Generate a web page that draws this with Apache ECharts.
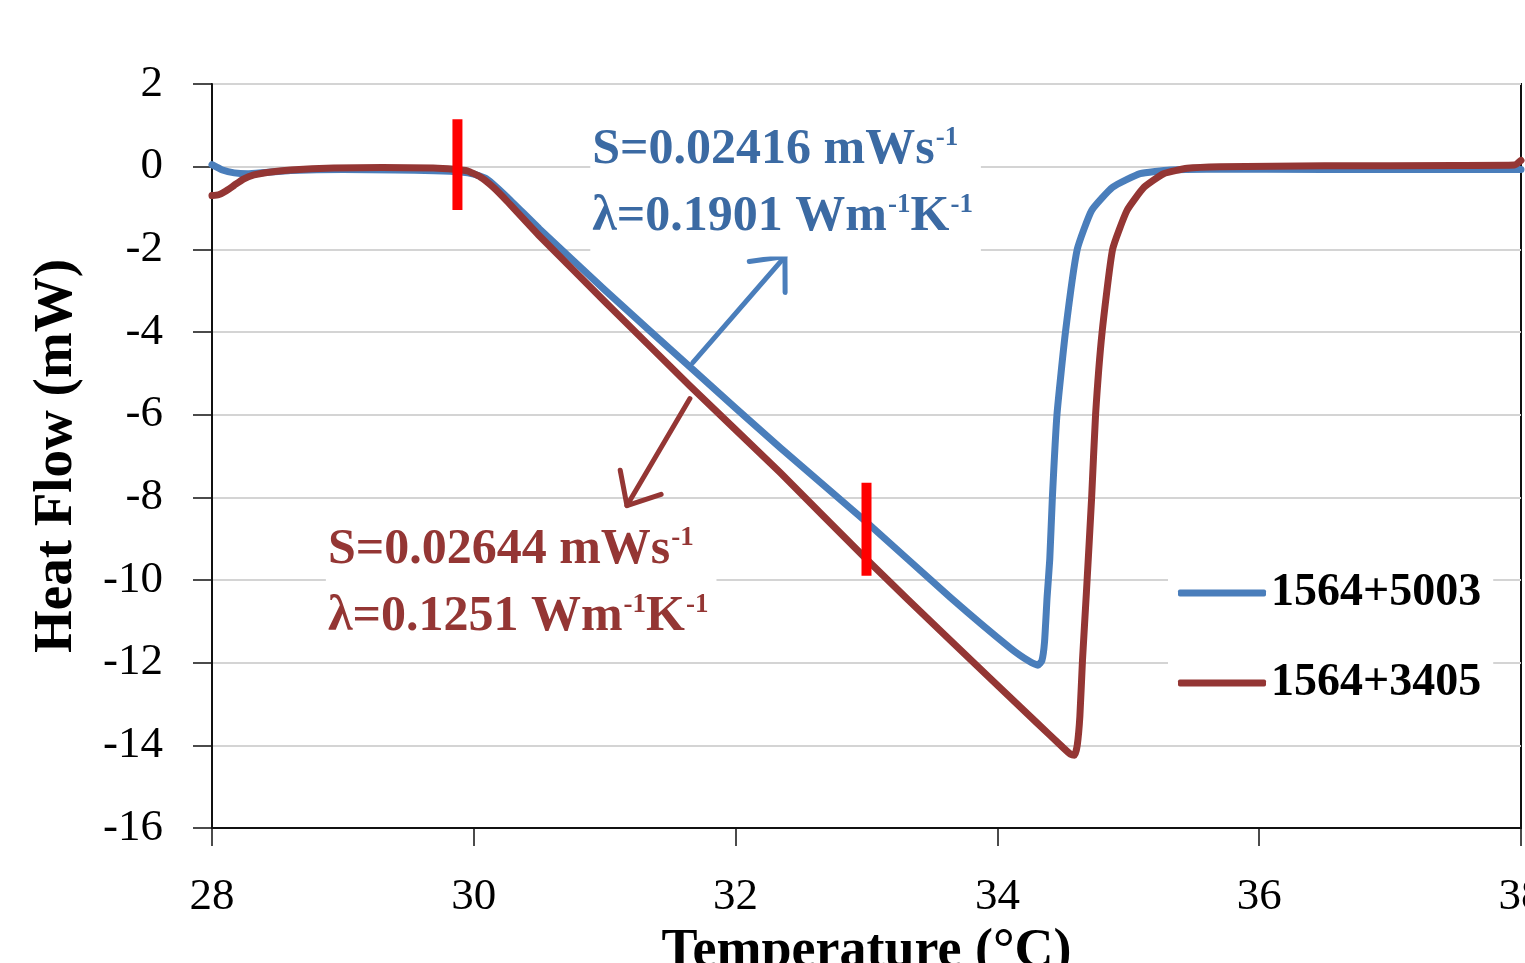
<!DOCTYPE html>
<html>
<head>
<meta charset="utf-8">
<script src="https://cdn.jsdelivr.net/npm/echarts@6/dist/echarts.min.js"></script>
<style>
  html, body { margin: 0; padding: 0; background: #ffffff; }
  #chart { width: 1525px; height: 963px; }
</style>
</head>
<body>
<div id="chart"></div>
<script>
// DSC heat-flow traces for the two blends (temperature in °C, heat flow in mW)
const seriesNames = ['1564+5003', '1564+3405'];

const tempBlue = [28.0, 28.08, 28.17, 28.27, 28.4, 28.6, 29.0, 29.4, 29.7, 29.9, 30.0, 30.1, 30.25, 30.5,
  31.0, 31.67, 32.34, 33.0, 33.64, 34.1, 34.25, 34.31, 34.34,
  34.36, 34.38, 34.40, 34.42, 34.455, 34.52, 34.61, 34.72, 34.88, 35.09, 35.32, 35.6, 36.5, 37.5, 38.0];
const flowBlue = [0.05, -0.08, -0.15, -0.17, -0.14, -0.09, -0.07, -0.08, -0.1, -0.13, -0.18, -0.3, -0.72, -1.5,
  -2.98, -4.9, -6.8, -8.6, -10.42, -11.65, -11.98, -12.06, -11.95,
  -11.5, -10.4, -9.5, -8.0, -6.0, -4.0, -2.0, -1.06, -0.5, -0.17, -0.08, -0.06, -0.07, -0.07, -0.07];

const tempRed = [28.0, 28.05, 28.1, 28.17, 28.24, 28.32, 28.42, 28.6, 28.93, 29.3, 29.69, 29.85, 29.95, 30.05,
  30.15, 30.25, 30.5, 31.0, 31.65, 32.34, 33.0, 33.64, 34.3,
  34.5, 34.56, 34.59, 34.61, 34.63, 34.65, 34.68, 34.72, 34.75, 34.80, 34.88, 34.99, 35.12, 35.27, 35.45,
  35.7, 36.5, 37.5, 37.95, 38.0];
const flowRed = [-0.7, -0.68, -0.6, -0.45, -0.3, -0.2, -0.14, -0.08, -0.03, -0.02, -0.03, -0.06, -0.1, -0.25,
  -0.5, -0.82, -1.67, -3.26, -5.3, -7.4, -9.5, -11.46, -13.45,
  -14.05, -14.22, -14.24, -14.0, -13.3, -11.94, -10.3, -8.0, -6.0, -4.0, -2.0, -1.06, -0.5, -0.17, -0.04,
  0.0, 0.02, 0.03, 0.04, 0.15];

// Red bars marking the fitted interval: temperature, upper and lower heat flow
const markerTemp = [29.875, 33.0];
const markerTop = [1.15, -7.65];
const markerBottom = [-1.05, -9.9];

// Fit results shown next to each trace
const noteS = ['0.02416', '0.02644'];
const noteLambda = ['0.1901', '0.1251'];

// Axis ticks
const xTicks = [28, 30, 32, 34, 36, 38];
const yTicks = [-16, -14, -12, -10, -8, -6, -4, -2, 0, 2];

const FONT = '"Liberation Serif", "DejaVu Serif", serif';
const BLUE = '#4a7ebb';
const RED = '#943634';
const BLUE_TEXT = '#3b6aa3';
const RED_TEXT = '#943634';

const zip = (a, b) => a.map((v, i) => [v, b[i]]);

const chart = echarts.init(document.getElementById('chart'), null, { renderer: 'canvas' });

// Arrow geometry: from a point on the trace to the end pointing at its note
const arrowData = [
  [31.673, -4.74, 32.377, -2.175, 0],
  [31.651, -5.61, 31.17, -8.2, 1]
];
const arrowColors = [BLUE, RED];

// Note placement (top-left corner of each text block, in data units)
const noteData = [
  [30.89, 1.26, 0],
  [28.87, -8.42, 1]
];
const noteColors = [BLUE_TEXT, RED_TEXT];

function noteRich(color) {
  return {
    b: { fontFamily: FONT, fontSize: 50, fontWeight: 'bold', fill: color, lineHeight: 67 },
    s: { fontFamily: FONT, fontSize: 27, fontWeight: 'bold', fill: color, verticalAlign: 'top', padding: [8, 0, 0, 1] }
  };
}

const option = {
  backgroundColor: '#ffffff',
  animation: false,
  grid: {
    left: 212, top: 84, right: 4, bottom: 135,
    outerBoundsMode: 'none',
    containLabel: false,
    show: true, borderColor: '#111', borderWidth: 2, backgroundColor: 'transparent'
  },
  legend: {
    orient: 'vertical',
    left: 1168, top: 560,
    padding: [8, 12, 8, 10],
    backgroundColor: '#ffffff',
    itemWidth: 88, itemHeight: 7, itemGap: 40,
    icon: 'roundRect',
    textStyle: { fontFamily: FONT, fontSize: 46, fontWeight: 'bold', color: '#000', lineHeight: 50 },
    data: seriesNames
  },
  xAxis: {
    type: 'value', min: xTicks[0], max: xTicks[xTicks.length - 1], interval: 2,
    name: 'Temperature (°C)', nameLocation: 'middle', nameGap: 97,
    nameTextStyle: { fontFamily: FONT, fontSize: 54, fontWeight: 'bold', color: '#000' },
    axisLine: { onZero: false, lineStyle: { color: '#111', width: 2 } },
    axisTick: { show: true, length: 18, lineStyle: { color: '#111', width: 1.5 } },
    axisLabel: { fontFamily: FONT, fontSize: 45, color: '#000', margin: 47 },
    splitLine: { show: false }
  },
  yAxis: {
    type: 'value', min: yTicks[0], max: yTicks[yTicks.length - 1], interval: 2,
    name: 'Heat Flow (mW)', nameLocation: 'middle', nameGap: 128,
    nameTextStyle: { fontFamily: FONT, fontSize: 55, fontWeight: 'bold', color: '#000' },
    axisLine: { show: true, onZero: false, lineStyle: { color: '#111', width: 2 } },
    axisTick: { show: true, length: 19, lineStyle: { color: '#111', width: 1.5 } },
    axisLabel: { fontFamily: FONT, fontSize: 45, color: '#000', margin: 49 },
    splitLine: { show: true, lineStyle: { color: '#d4d4d4', width: 2 } }
  },
  series: [
    {
      name: seriesNames[0], type: 'line', data: zip(tempBlue, flowBlue),
      symbol: 'none', showSymbol: false, smooth: 0.15, z: 3,
      itemStyle: { color: BLUE },
      lineStyle: { color: BLUE, width: 7, cap: 'round', join: 'round' }
    },
    {
      name: seriesNames[1], type: 'line', data: zip(tempRed, flowRed),
      symbol: 'none', showSymbol: false, smooth: 0.15, z: 4,
      itemStyle: { color: RED },
      lineStyle: { color: RED, width: 7, cap: 'round', join: 'round' }
    },
    {
      name: 'markers', type: 'custom', z: 6,
      data: markerTemp.map((t, i) => [t, markerTop[i], markerBottom[i]]),
      encode: { x: 0, y: [1, 2] },
      renderItem: function (params, api) {
        const p1 = api.coord([api.value(0), api.value(1)]);
        const p2 = api.coord([api.value(0), api.value(2)]);
        return {
          type: 'rect',
          shape: { x: p1[0] - 5, y: p1[1], width: 10, height: p2[1] - p1[1] },
          style: { fill: '#ff0000' }
        };
      }
    },
    {
      name: 'arrows', type: 'custom', z: 5,
      data: arrowData,
      encode: { x: [0, 2], y: [1, 3] },
      renderItem: function (params, api) {
        const a = api.coord([api.value(0), api.value(1)]);
        const b = api.coord([api.value(2), api.value(3)]);
        const color = arrowColors[api.value(4)];
        const ang = Math.atan2(b[1] - a[1], b[0] - a[0]);
        const len = 36, spread = 0.72;
        const h1 = [b[0] - len * Math.cos(ang - spread), b[1] - len * Math.sin(ang - spread)];
        const h2 = [b[0] - len * Math.cos(ang + spread), b[1] - len * Math.sin(ang + spread)];
        const st = { stroke: color, lineWidth: 5, lineCap: 'round', lineJoin: 'round', fill: null };
        return {
          type: 'group',
          children: [
            { type: 'line', shape: { x1: a[0], y1: a[1], x2: b[0], y2: b[1] }, style: st },
            { type: 'polyline', shape: { points: [h1, b, h2] }, style: st }
          ]
        };
      }
    },
    {
      name: 'notes', type: 'custom', z: 7,
      data: noteData,
      encode: { x: 0, y: 1 },
      renderItem: function (params, api) {
        const i = api.value(2);
        const p = api.coord([api.value(0), api.value(1)]);
        const txt = '{b|S=' + noteS[i] + ' mWs}{s|-1}\n{b|λ=' + noteLambda[i] + ' Wm}{s|-1}{b|K}{s|-1}';
        return {
          type: 'text',
          x: p[0], y: p[1],
          style: {
            text: txt,
            rich: noteRich(noteColors[i]),
            fill: noteColors[i],
            align: 'left', verticalAlign: 'top',
            backgroundColor: '#ffffff',
            padding: [2, 8, 6, 2]
          }
        };
      }
    }
  ]
};

chart.setOption(option);
</script>
</body>
</html>
